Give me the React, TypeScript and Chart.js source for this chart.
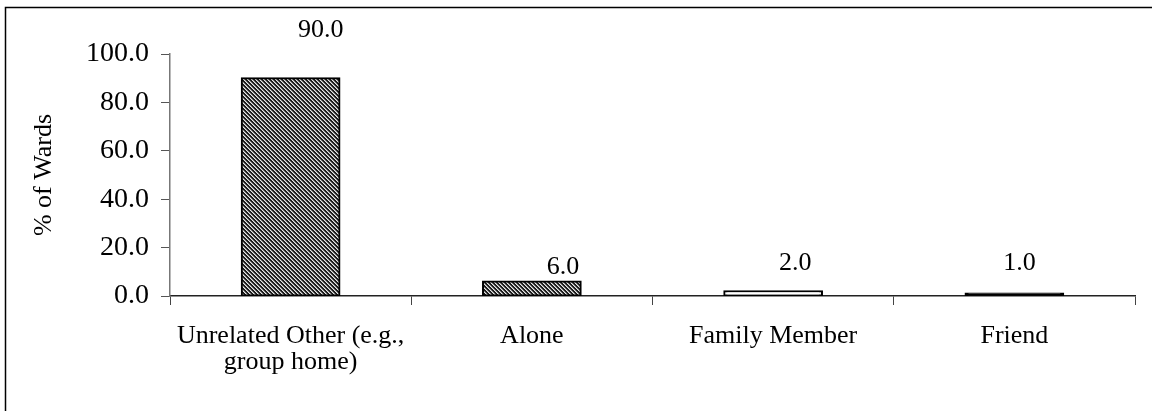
import { useEffect, useRef } from "react";
import { Chart, registerables } from "chart.js";

Chart.register(...registerables);

// Living arrangement of wards
const categories: (string | string[])[] = [
  ["Unrelated Other (e.g.,", "group home)"],
  "Alone",
  "Family Member",
  "Friend",
];
const shareOfWards = [90.0, 6.0, 2.0, 1.0];
const yTickValues = [0, 20, 40, 60, 80, 100];
const yAxisTitle = "% of Wards";

const SERIF = "'Liberation Serif', 'Times New Roman', serif";

// Label placement relative to each bar top (dx to the right, dy upward)
const labelShift = [
  { dx: 30, dy: 48 },
  { dx: 31, dy: 14 },
  { dx: 22, dy: 28 },
  { dx: 5, dy: 30 },
];

function makeHatch(): CanvasPattern | string {
  const tile = document.createElement("canvas");
  tile.width = 4;
  tile.height = 4;
  const g = tile.getContext("2d");
  if (!g) return "#555";
  g.fillStyle = "#1c1c1c";
  g.fillRect(0, 0, 4, 4);
  for (let r = 0; r < 4; r++) {
    g.fillStyle = "#e6e6e6";
    g.fillRect(r % 4, r, 1, 1);
    g.fillStyle = "#8a8a8a";
    g.fillRect((r + 1) % 4, r, 1, 1);
  }
  const p = g.createPattern(tile, "repeat");
  return p || "#555";
}

const frame = {
  id: "frame",
  afterDraw(chart: Chart) {
    const ctx = chart.ctx;
    ctx.save();
    ctx.strokeStyle = "#000";
    ctx.lineWidth = 1.5;
    ctx.beginPath();
    ctx.moveTo(5.5, chart.height + 2);
    ctx.lineTo(5.5, 7.5);
    ctx.lineTo(chart.width + 2, 7.5);
    ctx.stroke();
    ctx.restore();
  },
};

const valueLabels = {
  id: "valueLabels",
  afterDatasetsDraw(chart: Chart) {
    const ctx = chart.ctx;
    const meta = chart.getDatasetMeta(0);
    const data = chart.data.datasets[0].data as number[];
    ctx.save();
    ctx.fillStyle = "#000";
    ctx.font = `26px ${SERIF}`;
    ctx.textAlign = "center";
    ctx.textBaseline = "middle";
    meta.data.forEach((bar: any, i: number) => {
      const s = labelShift[i] || { dx: 0, dy: 20 };
      ctx.fillText(data[i].toFixed(1), bar.x + s.dx, bar.y - s.dy);
    });
    ctx.restore();
  },
};

export default function App() {
  const ref = useRef<HTMLCanvasElement | null>(null);

  useEffect(() => {
    if (!ref.current) return;
    const hatch = makeHatch();
    const chart = new Chart(ref.current, {
      type: "bar",
      data: {
        labels: categories,
        datasets: [
          {
            data: shareOfWards,
            backgroundColor: [hatch, hatch, "#ffffff", "#000000"],
            borderColor: "#000",
            borderWidth: 2,
            borderSkipped: false,
            inflateAmount: 1,
            categoryPercentage: 1,
            barPercentage: 0.405,
          },
        ],
      },
      options: {
        responsive: false,
        animation: false,
        devicePixelRatio: 1,
        layout: { padding: { top: 54, right: 17, left: 0, bottom: 0 } },
        plugins: {
          legend: { display: false },
          tooltip: { enabled: false },
        },
        scales: {
          x: {
            grid: {
              offset: true,
              drawOnChartArea: false,
              drawTicks: true,
              tickLength: 9,
              color: "#444",
            },
            border: { color: "#222", width: 1.5 },
            ticks: {
              color: "#000",
              font: { family: SERIF, size: 26, lineHeight: 1.0 },
              padding: 18,
              maxRotation: 0,
              autoSkip: false,
            },
            afterFit(scale: any) {
              scale.height = 115;
            },
          },
          y: {
            min: 0,
            max: 100,
            afterBuildTicks(scale: any) {
              scale.ticks = yTickValues.map((v) => ({ value: v }));
            },
            grid: {
              drawOnChartArea: false,
              drawTicks: true,
              tickLength: 9,
              color: "#555",
            },
            border: { color: "#777", width: 1.5 },
            ticks: {
              color: "#000",
              font: { family: SERIF, size: 28 },
              padding: 12,
              callback: (v: any) => Number(v).toFixed(1),
            },
            title: {
              display: true,
              text: yAxisTitle,
              color: "#000",
              font: { family: SERIF, size: 26, lineHeight: 1.2 },
              padding: { top: 29, bottom: 0 },
            },
            afterFit(scale: any) {
              scale.width = 170;
            },
          },
        },
      },
      plugins: [frame, valueLabels],
    });
    return () => chart.destroy();
  }, []);

  return (
    <div
      style={{
        position: "fixed",
        left: 0,
        top: 0,
        width: 1152,
        height: 411,
        background: "#fff",
      }}
    >
      <canvas ref={ref} width={1152} height={411} />
    </div>
  );
}
